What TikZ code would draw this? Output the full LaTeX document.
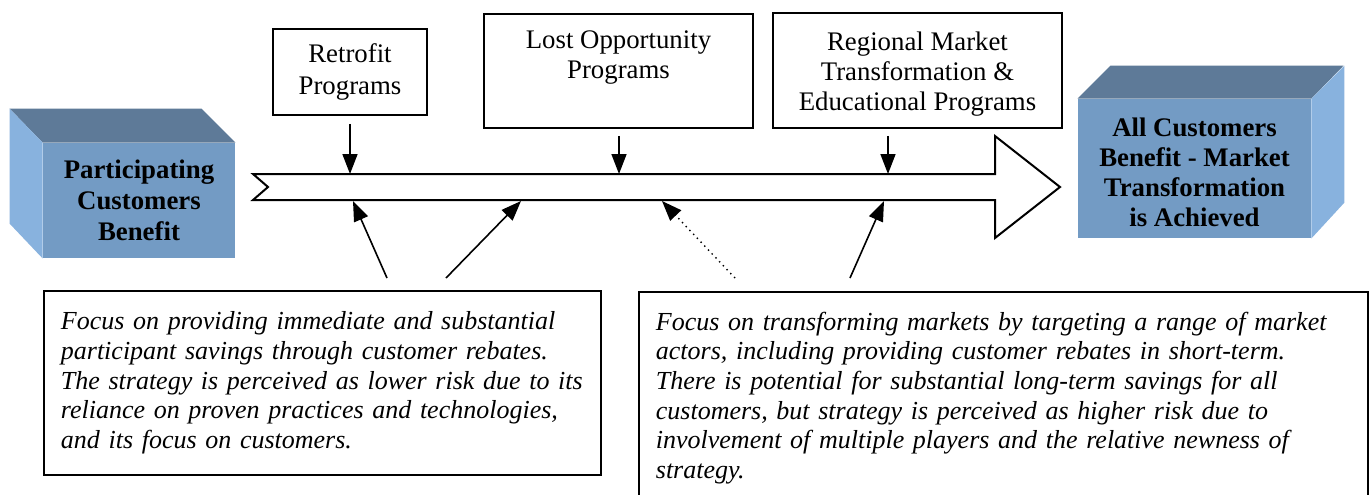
\documentclass[tikz,border=0pt]{standalone}
\usepackage{fontspec}
\setmainfont{Liberation Serif}
\usetikzlibrary{arrows.meta,calc}
\definecolor{cubefront}{RGB}{115,155,196}
\definecolor{cubetop}{RGB}{94,122,152}
\definecolor{cubeside}{RGB}{136,178,222}
\tikzset{
  progbox/.style={draw, line width=0.9pt, align=center, font=\fontsize{13.4}{15}\selectfont},
  notebox/.style={draw, line width=0.9pt, align=left, anchor=north west, inner xsep=8.5pt,
    font=\fontsize{13}{14.8}\selectfont\itshape},
  cubeface/.style={fill=cubefront, align=center, font=\fontsize{13.4}{15.5}\selectfont\bfseries},
  pointer/.style={line width=0.8pt, -{Triangle[length=10pt,width=7.5pt]}},
}

\begin{document}
\begin{tikzpicture}[x=0.5pt, y=-0.5pt]
    \useasboundingbox (0,0) rectangle (1372,494);
    \clip (0,0) rectangle (1372,494);
    \fill[white] (0,0) rectangle (1372,494);
    \node[cubeface, minimum width=96pt, minimum height=57.5pt] (partben) at (139,200.5) {Participating\\Customers\\Benefit};
    \fill[cubetop] (partben.north west) -- ++(-33,-34) -- ++(192,0) -- (partben.north east) -- cycle;
    \fill[cubeside] (partben.north west) -- ++(-33,-34) -- ++(0,115) -- (partben.south west) -- cycle;
    \node[cubeface, font=\fontsize{13.4}{15}\selectfont\bfseries, minimum width=116.5pt, minimum height=69.5pt] (allben) at (1194.5,168.5)
        {\mbox{}\\[-2pt]All Customers\\Benefit - Market\\Transformation\\is Achieved};
    \fill[cubetop] (allben.north west) -- ++(33,-33) -- ++(233,0) -- (allben.north east) -- cycle;
    \fill[cubeside] (allben.north east) -- ++(33,-33) -- ++(0,137) -- (allben.south east) -- cycle;
    \node[progbox, minimum width=77pt, minimum height=43pt] (retro) at (350,72) {Retrofit\\[1pt]Programs};
    \node[progbox, minimum width=134.5pt, minimum height=57pt] (lostopp) at (618.5,71) {Lost Opportunity\\Programs\\[-3pt]\strut};
    \node[progbox, minimum width=144.5pt, minimum height=57.5pt] (regional) at (917.5,70.5) {\mbox{}\\[-2.5pt]Regional Market\\Transformation \&\\Educational Programs};
    \draw[line width=1pt, fill=white] (253,174) -- (995,174) -- (995,136) -- (1060,187) -- (995,238)
        -- (995,200) -- (253,200) -- (268,187) -- cycle;
    \coordinate (in1) at (350,174);
    \coordinate (in2) at (619,174);
    \coordinate (in3) at (888,174);
    \coordinate (out1) at (353,201);
    \coordinate (out2) at (521,201);
    \coordinate (out3) at (662,201);
    \coordinate (out4) at (884,201);
    \coordinate (from1) at (387,278);
    \coordinate (from2) at (446,278);
    \coordinate (from3) at (735,278);
    \coordinate (from4) at (850,278);
    \draw[pointer, shorten <=4pt] (retro) -- (in1);
    \draw[pointer, shorten <=3.5pt] (lostopp.south -| in2) -- (in2);
    \draw[pointer, shorten <=3.5pt] (regional.south -| in3) -- (in3);
    \draw[pointer] (from1) -- (out1);
    \draw[pointer] (from2) -- (out2);
    \draw[pointer, line width=0.7pt, dotted] (from3) -- (out3);
    \draw[pointer] (from4) -- (out4);
    \node[notebox, text width=261.5pt, minimum height=92pt] (lowrisk) at (43,290) {Focus on providing immediate and substantial\\
        participant savings through customer rebates.\\
        The strategy is perceived as lower risk due to its\\
        reliance on proven practices and technologies,\\
        and its focus on customers.};
    \node[notebox, text width=347.5pt, minimum height=106pt] (highrisk) at (638,291) {Focus on transforming markets by targeting a range of market\\
        actors, including providing customer rebates in short-term.\\
        There is potential for substantial long-term savings for all\\
        customers, but strategy is perceived as higher risk due to\\
        involvement of multiple players and the relative newness of\\
        strategy.};
\end{tikzpicture}
\end{document}
